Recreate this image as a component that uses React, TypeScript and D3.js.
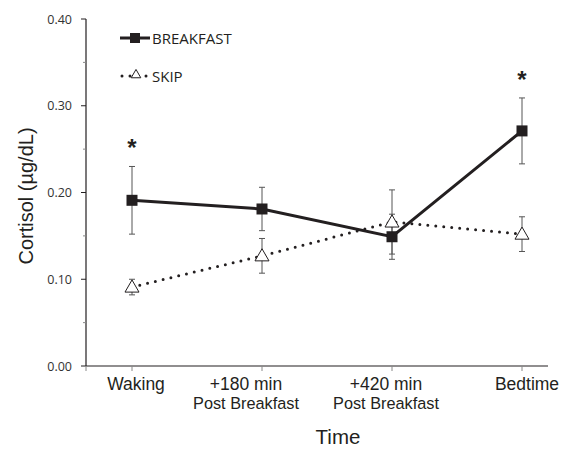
import { useEffect, useRef } from "react";
import * as d3 from "d3";

const categories = ["Waking", "+180 min", "+420 min", "Bedtime"];
const subLabels = ["", "Post Breakfast", "Post Breakfast", ""];
const breakfast = [0.191, 0.181, 0.149, 0.271];
const breakfastErr = [0.039, 0.025, 0.026, 0.038];
const skip = [0.091, 0.127, 0.166, 0.152];
const skipErr = [0.009, 0.02, 0.037, 0.02];
const significant = [true, false, false, true];
const yTicks = [0, 0.1, 0.2, 0.3, 0.4];

function App() {
    const svgRef = useRef<SVGSVGElement | null>(null);

    useEffect(() => {
        if (!svgRef.current) return;
        const width = 564;
        const height = 449;
        const svg = d3.select(svgRef.current).attr("width", width).attr("height", height);
        svg.selectAll("*").remove();

        const axisLeft = 86;
        const axisRight = 548;
        const y = d3.scaleLinear().domain([0, 0.4]).range([366, 19]);
        const x = d3.scalePoint<string>().domain(categories).range([132, 522]);
        // the original's category labels sit a little off their ticks
        const labelShift = [4, -16, -6, 5];

        const ink = "#231f20";

        // y axis
        svg.append("line")
            .attr("x1", axisLeft).attr("x2", axisLeft)
            .attr("y1", y(0.4)).attr("y2", y(0))
            .attr("stroke", ink).attr("stroke-width", 1.2);
        const yt = svg.append("g");
        yTicks.forEach((t) => {
            yt.append("line")
                .attr("x1", axisLeft - 5).attr("x2", axisLeft)
                .attr("y1", y(t)).attr("y2", y(t))
                .attr("stroke", ink);
            yt.append("text")
                .attr("x", axisLeft - 14).attr("y", y(t) + 4.5)
                .attr("text-anchor", "end")
                .attr("font-family", "Open Sans")
                .attr("font-size", 12.5)
                .attr("fill", "#333")
                .text(t.toFixed(2));
        });
        [0.05, 0.15, 0.25, 0.35].forEach((t) => {
            yt.append("line")
                .attr("x1", axisLeft - 3).attr("x2", axisLeft)
                .attr("y1", y(t)).attr("y2", y(t))
                .attr("stroke", "#888");
        });
        svg.append("text")
            .attr("transform", `translate(33,${196}) rotate(-90)`)
            .attr("text-anchor", "middle")
            .attr("font-family", "Liberation Sans")
            .attr("font-size", 20)
            .attr("fill", ink)
            .text("Cortisol (µg/dL)");

        // x axis
        svg.append("line")
            .attr("x1", axisLeft).attr("x2", axisRight)
            .attr("y1", y(0)).attr("y2", y(0))
            .attr("stroke", ink).attr("stroke-width", 1.2);
        svg.append("line")
            .attr("x1", axisLeft).attr("x2", axisLeft)
            .attr("y1", y(0)).attr("y2", y(0) + 5)
            .attr("stroke", "#888");
        categories.forEach((c, i) => {
            const cx = x(c)!;
            const lx = cx + labelShift[i];
            svg.append("line")
                .attr("x1", cx).attr("x2", cx)
                .attr("y1", y(0)).attr("y2", y(0) + 5)
                .attr("stroke", "#888");
            svg.append("text")
                .attr("x", lx).attr("y", 390)
                .attr("text-anchor", "middle")
                .attr("font-family", "Liberation Sans")
                .attr("font-size", 17.5)
                .attr("fill", ink)
                .text(c);
            if (subLabels[i]) {
                svg.append("text")
                    .attr("x", lx).attr("y", 409)
                    .attr("text-anchor", "middle")
                    .attr("font-family", "Liberation Sans")
                    .attr("font-size", 16.3)
                    .attr("fill", ink)
                    .text(subLabels[i]);
            }
        });
        svg.append("text")
            .attr("x", 338).attr("y", 444)
            .attr("text-anchor", "middle")
            .attr("font-family", "Liberation Sans")
            .attr("font-size", 20.5)
            .attr("fill", ink)
            .text("Time");

        // error bars
        const errBars = (vals: number[], errs: number[], color: string) => {
            vals.forEach((v, i) => {
                const cx = x(categories[i])!;
                const g = svg.append("g").attr("stroke", color).attr("stroke-width", 1);
                g.append("line").attr("x1", cx).attr("x2", cx).attr("y1", y(v + errs[i])).attr("y2", y(v - errs[i]));
                [v + errs[i], v - errs[i]].forEach((e) => {
                    g.append("line").attr("x1", cx - 3).attr("x2", cx + 3).attr("y1", y(e)).attr("y2", y(e));
                });
            });
        };
        errBars(skip, skipErr, "#555");
        errBars(breakfast, breakfastErr, "#555");

        const line = d3.line<number>().x((_, i) => x(categories[i])!).y((d) => y(d));

        // skip line
        svg.append("path")
            .attr("d", line(skip)!)
            .attr("fill", "none")
            .attr("stroke", ink)
            .attr("stroke-width", 3)
            .attr("stroke-linecap", "round")
            .attr("stroke-dasharray", "0 8");

        // breakfast line
        svg.append("path")
            .attr("d", line(breakfast)!)
            .attr("fill", "none")
            .attr("stroke", ink)
            .attr("stroke-width", 3);

        const tri = d3.symbol(d3.symbolTriangle, 85);
        svg.selectAll(".tri")
            .data(skip)
            .join("path")
            .attr("class", "tri")
            .attr("transform", (d, i) => `translate(${x(categories[i])},${y(d) + 1})`)
            .attr("d", tri()!)
            .attr("fill", "white")
            .attr("stroke", ink)
            .attr("stroke-width", 1);

        svg.selectAll(".sq")
            .data(breakfast)
            .join("rect")
            .attr("class", "sq")
            .attr("x", (_, i) => x(categories[i])! - 5.5)
            .attr("y", (d) => y(d) - 5.5)
            .attr("width", 11)
            .attr("height", 11)
            .attr("fill", ink);

        // asterisks
        significant.forEach((s, i) => {
            if (!s) return;
            const top = Math.max(breakfast[i] + breakfastErr[i], skip[i] + skipErr[i]);
            svg.append("text")
                .attr("x", x(categories[i])!).attr("y", y(top) - 10)
                .attr("text-anchor", "middle")
                .attr("font-family", "Liberation Sans")
                .attr("font-weight", "bold")
                .attr("font-size", 24)
                .attr("fill", ink)
                .text("*");
        });

        // legend
        const lg = svg.append("g");
        lg.append("line").attr("x1", 120).attr("x2", 150).attr("y1", 38).attr("y2", 38)
            .attr("stroke", ink).attr("stroke-width", 3);
        lg.append("rect").attr("x", 130).attr("y", 33).attr("width", 10).attr("height", 10).attr("fill", ink);
        lg.append("text").attr("x", 152).attr("y", 44)
            .attr("font-family", "Open Sans").attr("font-size", 15).attr("fill", ink).text("BREAKFAST");
        lg.append("line").attr("x1", 122).attr("x2", 148).attr("y1", 76).attr("y2", 76)
            .attr("stroke", ink).attr("stroke-width", 3).attr("stroke-linecap", "round")
            .attr("stroke-dasharray", "0 8");
        lg.append("path").attr("transform", "translate(136,75)").attr("d", d3.symbol(d3.symbolTriangle, 40)()!)
            .attr("fill", "white").attr("stroke", ink);
        lg.append("text").attr("x", 152).attr("y", 82)
            .attr("font-family", "Open Sans").attr("font-size", 15).attr("fill", ink).text("SKIP");
    }, []);

    return (
        <div>
            <svg ref={svgRef} style={{ position: "absolute", left: 0, top: 0 }}></svg>
        </div>
    );
}

export default App;
